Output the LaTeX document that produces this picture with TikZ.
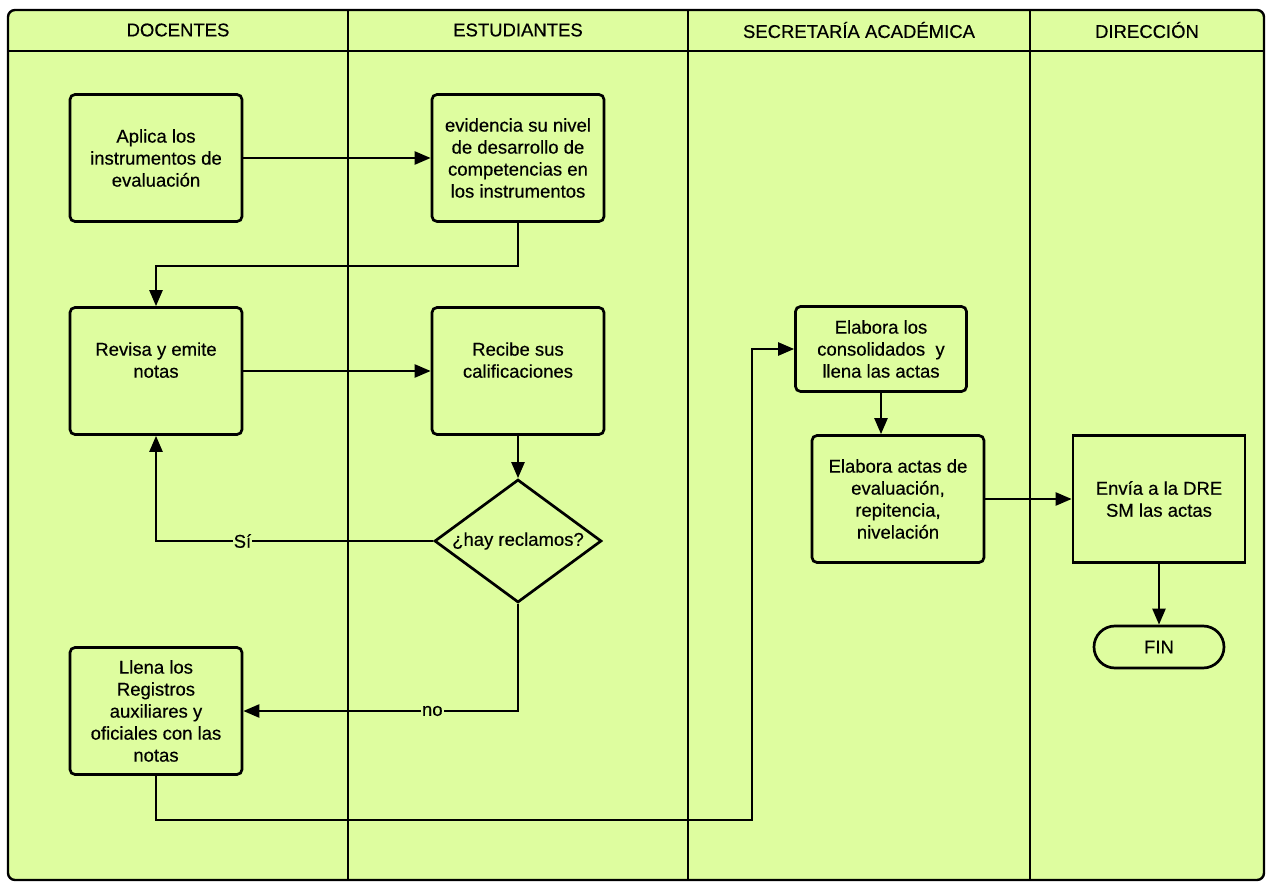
\documentclass[tikz,border=0pt]{standalone}
\usepackage{fontspec}
\setmainfont[FakeBold=0.4,AutoFakeBold=0.4]{Liberation Sans}
\usetikzlibrary{arrows.meta,shapes.geometric,calc}
\definecolor{bg}{HTML}{DEFD9F}
\begin{document}
\begin{tikzpicture}[x=1pt,y=-1pt,
  every node/.style={font=\fontsize{18.5}{22}\selectfont\addfontfeature{FakeBold=0.4}},
  proc/.style={draw,line width=2.7pt,rounded corners=5pt,fill=bg,minimum width=172pt,minimum height=127pt,align=center,inner sep=2pt},
  sharp/.style={proc,rounded corners=0pt},
  smallproc/.style={proc,minimum height=85pt,minimum width=171pt},
  decision/.style={draw,line width=2.7pt,fill=bg,diamond,minimum width=167pt,minimum height=123pt,inner sep=0pt,aspect=1.36},
  term/.style={draw,line width=2.7pt,fill=bg,rounded corners=21pt,minimum width=130pt,minimum height=42pt,inner sep=0pt},
  lane/.style={line width=2.2pt},
  conn/.style={line width=2.4pt,-{Triangle[length=16pt,width=13pt]}},
  lbl/.style={fill=bg,inner sep=1pt},
  header/.style={inner sep=0pt}]
\useasboundingbox (0,0) rectangle (1270,882);
% frame and lanes
\draw[line width=2.4pt,rounded corners=7pt,fill=bg] (8,10) rectangle (1264,880);
\draw[lane] (8,51) -- (1264,51);
\draw[lane] (348,10) -- (348,880);
\draw[lane] (688,10) -- (688,880);
\draw[lane] (1030,10) -- (1030,880);
\node[header] (h1) at (178,30) {DOCENTES};
\node[header] (h2) at (518,30) {ESTUDIANTES};
\node[header] (h3) at (859,30) {SECRETARÍA ACADÉMICA};
\node[header] (h4) at (1147,30) {DIRECCIÓN};
% nodes
\node[proc] (aplica) at (156,158) {Aplica los\\instrumentos de\\evaluación};
\node[proc] (evid) at (518,158) {evidencia su nivel\\de desarrollo de\\competencias en\\los instrumentos};
\node[proc] (revisa) at (156,371) {Revisa y emite\\notas\\~};
\node[proc] (recibe) at (518,371) {Recibe sus\\calificaciones\\~};
\node[decision] (dec) at (518,541) {¿hay reclamos?};
\node[proc] (llena) at (156,711) {Llena los\\Registros\\auxiliares y\\oficiales con las\\notas};
\node[smallproc] (cons) at (881,349) {Elabora los\\consolidados\ \ y\\llena las actas};
\node[proc] (actas) at (898,499) {Elabora actas de\\evaluación,\\repitencia,\\nivelación};
\node[sharp] (envia) at (1159,499) {Envía a la DRE\\SM las actas};
\node[term] (fin) at (1159,647) {FIN};
\coordinate (c1) at (752,820);
% connectors
\draw[conn] (aplica) -- (evid);
\draw[conn] (evid.south) -- ++(0,43) -| (revisa.north);
\draw[conn] (revisa) -- (recibe);
\draw[conn] (recibe) -- (dec);
\draw[conn] (dec.west) -| node[lbl,pos=0.344] {Sí} (revisa.south);
\draw[conn] (dec.south) |- node[lbl,pos=0.656] {no} (llena.east);
\draw[conn] (llena.south) |- (c1) |- (cons.west);
\draw[conn] (cons.south) -- (cons.south |- actas.north);
\draw[conn] (actas) -- (envia);
\draw[conn] (envia) -- (fin);
\end{tikzpicture}
\end{document}
